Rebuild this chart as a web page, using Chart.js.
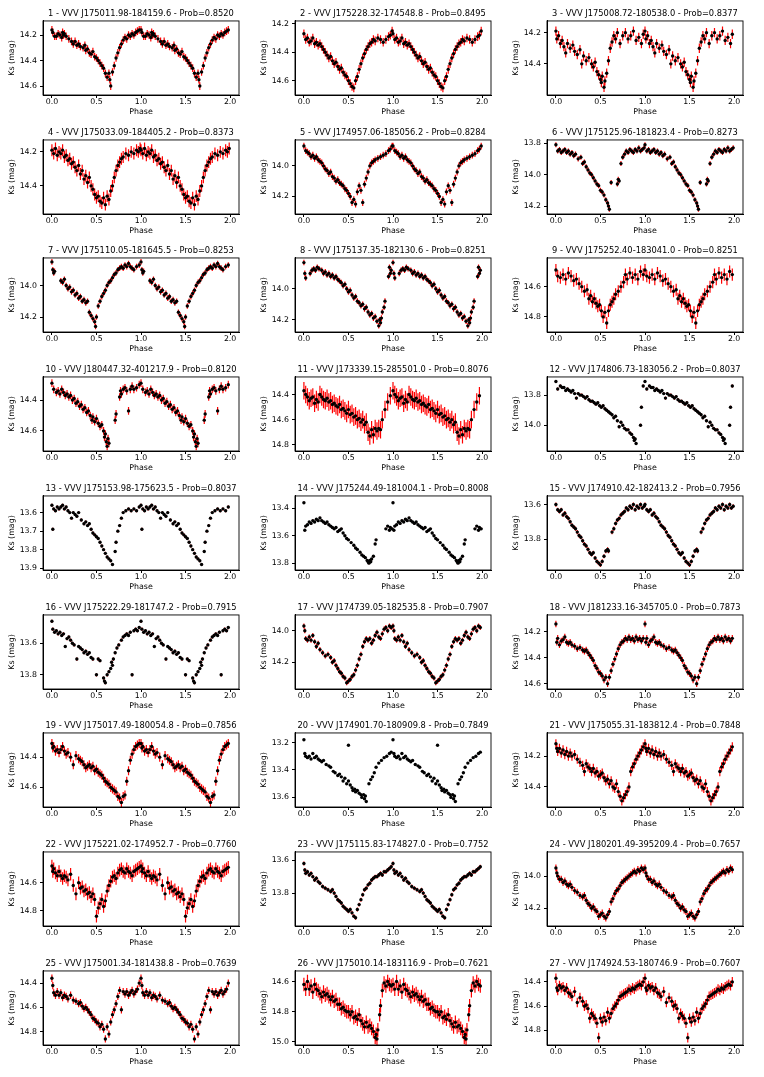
<!DOCTYPE html>
<html>
<head>
<meta charset="utf-8">
<script src="https://cdn.jsdelivr.net/npm/chart.js@4.4.0/dist/chart.umd.min.js"></script>
<style>
  html, body { margin: 0; padding: 0; background: #fff; }
  #fig { position: relative; width: 764px; height: 1077px; background: #fff; }
  #fig canvas { position: absolute; }
</style>
</head>
<body>
<div id="fig"></div>
<script>
// star ids and classifier probabilities, in panel order
const stars = [
  "J175011.98-184159.6", "J175228.32-174548.8", "J175008.72-180538.0",
  "J175033.09-184405.2", "J174957.06-185056.2", "J175125.96-181823.4",
  "J175110.05-181645.5", "J175137.35-182130.6", "J175252.40-183041.0",
  "J180447.32-401217.9", "J173339.15-285501.0", "J174806.73-183056.2",
  "J175153.98-175623.5", "J175244.49-181004.1", "J174910.42-182413.2",
  "J175222.29-181747.2", "J174739.05-182535.8", "J181233.16-345705.0",
  "J175017.49-180054.8", "J174901.70-180909.8", "J175055.31-183812.4",
  "J175221.02-174952.7", "J175115.83-174827.0", "J180201.49-395209.4",
  "J175001.34-181438.8", "J175010.14-183116.9", "J174924.53-180746.9"
];
const probs = ["0.8520","0.8495","0.8377","0.8373","0.8284","0.8273","0.8253","0.8251","0.8251",
  "0.8120","0.8076","0.8037","0.8037","0.8008","0.7956","0.7915","0.7907","0.7873",
  "0.7856","0.7849","0.7848","0.7760","0.7752","0.7657","0.7639","0.7621","0.7607"];

const xTicks = [0.0, 0.5, 1.0, 1.5, 2.0];
const yTicks = [
  [14.2,14.4,14.6],[14.2,14.4,14.6],[14.2,14.4],
  [14.2,14.4],[14.0,14.2],[13.8,14.0,14.2],
  [14.0,14.2],[14.0,14.2],[14.6,14.8],
  [14.4,14.6],[14.4,14.6,14.8],[13.8,14.0],
  [13.6,13.7,13.8,13.9],[13.4,13.6,13.8],[13.6,13.8],
  [13.6,13.8],[14.0,14.2],[14.2,14.4,14.6],
  [14.4,14.6],[13.2,13.4,13.6],[14.2,14.4],
  [14.6,14.8],[13.6,13.8],[14.0,14.2],
  [14.4,14.6,14.8],[14.6,14.8,15.0],[14.4,14.6,14.8]
];
const yMin = [14.09,14.18,14.125,14.13,13.83,13.78,13.825,13.80,14.41,14.25,14.26,13.68,13.51,13.31,13.55,13.42,13.90,14.07,14.24,13.13,14.05,14.38,13.55,13.85,14.30,14.53,14.31];
const yMax = [14.67,14.70,14.60,14.565,14.315,14.25,14.295,14.28,14.90,14.73,14.85,14.17,13.91,13.85,13.98,13.89,14.37,14.64,14.73,13.67,14.53,14.91,14.00,14.31,14.91,15.02,14.92];
// typical photometric error of each light curve (mag)
const errs = [0.03,0.03,0.03,0.035,0.022,0.016,0.018,0.018,0.04,0.025,0.07,0.01,0.008,0.008,0.012,0.01,0.016,0.025,0.03,0.005,0.03,0.045,0.012,0.022,0.03,0.045,0.04];

// phases (0..1); several stars share the same sampling
const phaseStd = [0.00,0.01,0.02,0.04,0.06,0.08,0.10,0.12,0.14,0.16,0.18,0.21,0.24,0.27,0.30,0.32,0.34,0.36,0.38,0.40,0.42,0.44,0.46,0.48,0.50,0.52,0.54,0.56,0.58,0.60,0.62,0.64,0.66,0.68,0.70,0.72,0.74,0.76,0.78,0.80,0.82,0.84,0.86,0.88,0.90,0.92,0.94,0.96,0.98];
const phaseEven = [0.00,0.02,0.04,0.06,0.08,0.10,0.12,0.14,0.16,0.18,0.20,0.22,0.24,0.26,0.28,0.30,0.32,0.34,0.36,0.38,0.40,0.42,0.44,0.46,0.48,0.50,0.52,0.54,0.56,0.58,0.60,0.62,0.64,0.66,0.68,0.70,0.72,0.74,0.76,0.78,0.80,0.83,0.86,0.89,0.92,0.95,0.97,0.99];

const phase = [
  [0.00,0.01,0.03,0.05,0.07,0.09,0.11,0.12,0.13,0.14,0.16,0.19,0.22,0.24,0.26,0.28,0.30,0.32,0.35,0.37,0.38,0.40,0.42,0.44,0.46,0.48,0.50,0.52,0.54,0.56,0.58,0.60,0.62,0.64,0.65,0.66,0.68,0.70,0.72,0.74,0.76,0.78,0.80,0.82,0.84,0.86,0.88,0.90,0.92,0.94,0.96,0.98],
  phaseEven,
  [0.00,0.01,0.03,0.05,0.07,0.09,0.11,0.13,0.16,0.19,0.21,0.24,0.27,0.29,0.31,0.34,0.37,0.40,0.42,0.44,0.46,0.48,0.50,0.51,0.52,0.54,0.55,0.57,0.59,0.61,0.63,0.65,0.67,0.69,0.72,0.75,0.78,0.81,0.84,0.87,0.90,0.93,0.96,0.98],
  phaseEven,
  phaseEven,
  [0.00,0.02,0.04,0.06,0.08,0.10,0.12,0.14,0.16,0.18,0.20,0.22,0.25,0.28,0.30,0.32,0.34,0.36,0.38,0.40,0.42,0.44,0.46,0.48,0.50,0.52,0.54,0.56,0.58,0.59,0.60,0.62,0.69,0.70,0.71,0.73,0.75,0.77,0.79,0.81,0.83,0.85,0.87,0.89,0.91,0.93,0.95,0.97,0.99],
  [0.00,0.01,0.02,0.03,0.10,0.12,0.14,0.16,0.18,0.20,0.22,0.24,0.26,0.28,0.30,0.32,0.34,0.36,0.38,0.40,0.42,0.44,0.46,0.48,0.49,0.50,0.52,0.54,0.56,0.58,0.60,0.62,0.64,0.66,0.68,0.70,0.72,0.74,0.76,0.78,0.80,0.82,0.84,0.86,0.88,0.90,0.92,0.95,0.98],
  [0.00,0.01,0.02,0.07,0.09,0.11,0.13,0.15,0.17,0.20,0.22,0.24,0.26,0.28,0.30,0.32,0.34,0.36,0.38,0.40,0.42,0.44,0.46,0.48,0.50,0.52,0.54,0.56,0.58,0.60,0.62,0.64,0.66,0.68,0.70,0.72,0.74,0.76,0.78,0.80,0.82,0.84,0.85,0.86,0.87,0.88,0.90,0.91,0.95,0.96,0.97,0.98],
  [0.00,0.02,0.05,0.08,0.11,0.14,0.17,0.20,0.23,0.26,0.29,0.32,0.35,0.37,0.39,0.41,0.43,0.45,0.47,0.49,0.51,0.53,0.55,0.57,0.59,0.61,0.63,0.65,0.67,0.70,0.73,0.76,0.78,0.80,0.83,0.86,0.89,0.92,0.95,0.98],
  [0.00,0.02,0.05,0.07,0.09,0.11,0.13,0.15,0.17,0.19,0.21,0.23,0.25,0.27,0.29,0.31,0.33,0.35,0.37,0.39,0.41,0.43,0.45,0.46,0.48,0.50,0.52,0.54,0.56,0.58,0.59,0.60,0.61,0.62,0.63,0.64,0.71,0.72,0.76,0.77,0.78,0.80,0.82,0.84,0.86,0.88,0.90,0.92,0.95,0.98],
  [0.00,0.02,0.04,0.06,0.08,0.10,0.12,0.14,0.16,0.18,0.20,0.22,0.24,0.26,0.28,0.30,0.32,0.34,0.36,0.38,0.40,0.42,0.44,0.46,0.48,0.50,0.52,0.54,0.56,0.58,0.60,0.62,0.64,0.66,0.68,0.70,0.72,0.74,0.76,0.78,0.80,0.82,0.84,0.86,0.88,0.91,0.94,0.97],
  [0.00,0.02,0.05,0.07,0.09,0.11,0.13,0.15,0.17,0.19,0.21,0.23,0.25,0.27,0.29,0.31,0.33,0.35,0.37,0.39,0.41,0.43,0.45,0.47,0.49,0.51,0.53,0.55,0.57,0.59,0.61,0.63,0.65,0.67,0.69,0.71,0.73,0.75,0.77,0.79,0.81,0.83,0.85,0.87,0.88,0.89,0.90,0.95,0.96,0.98],
  [0.00,0.01,0.02,0.04,0.06,0.08,0.10,0.12,0.14,0.16,0.18,0.20,0.22,0.24,0.26,0.28,0.30,0.33,0.36,0.38,0.40,0.42,0.44,0.46,0.48,0.50,0.52,0.54,0.56,0.58,0.60,0.62,0.64,0.66,0.68,0.71,0.72,0.74,0.76,0.78,0.80,0.83,0.86,0.89,0.92,0.95,0.98],
  [0.00,0.01,0.02,0.04,0.06,0.08,0.10,0.12,0.14,0.16,0.18,0.20,0.22,0.24,0.26,0.28,0.30,0.32,0.34,0.36,0.38,0.40,0.42,0.44,0.46,0.48,0.50,0.53,0.56,0.58,0.60,0.63,0.65,0.67,0.69,0.71,0.72,0.73,0.74,0.75,0.76,0.78,0.80,0.81,0.92,0.94,0.96,0.97,0.99],
  [0.00,0.02,0.04,0.06,0.08,0.10,0.12,0.14,0.16,0.18,0.20,0.22,0.24,0.26,0.28,0.30,0.32,0.34,0.36,0.38,0.40,0.42,0.44,0.46,0.48,0.50,0.52,0.54,0.56,0.58,0.59,0.63,0.65,0.67,0.69,0.71,0.73,0.75,0.77,0.79,0.81,0.83,0.85,0.87,0.89,0.91,0.93,0.95,0.97,0.99],
  [0.00,0.01,0.03,0.05,0.07,0.09,0.11,0.13,0.15,0.17,0.19,0.21,0.23,0.25,0.28,0.30,0.32,0.34,0.36,0.38,0.40,0.42,0.44,0.46,0.50,0.52,0.54,0.58,0.59,0.60,0.62,0.64,0.66,0.67,0.68,0.69,0.71,0.73,0.75,0.78,0.80,0.82,0.84,0.86,0.88,0.90,0.92,0.94,0.96,0.98],
  phaseStd,
  phaseStd,
  phaseStd,
  [0.00,0.01,0.02,0.04,0.06,0.08,0.10,0.12,0.14,0.16,0.18,0.20,0.22,0.25,0.28,0.30,0.33,0.35,0.38,0.40,0.42,0.44,0.46,0.48,0.50,0.50,0.52,0.54,0.55,0.57,0.58,0.60,0.62,0.64,0.65,0.67,0.68,0.69,0.70,0.73,0.75,0.77,0.79,0.81,0.84,0.87,0.90,0.93,0.96,0.98],
  phaseStd,
  phaseStd,
  phaseStd,
  phaseStd,
  phaseStd,
  [0.00,0.02,0.04,0.06,0.08,0.10,0.12,0.14,0.16,0.18,0.20,0.22,0.24,0.26,0.28,0.30,0.32,0.34,0.36,0.38,0.40,0.42,0.44,0.46,0.48,0.50,0.52,0.54,0.56,0.58,0.60,0.62,0.64,0.66,0.68,0.70,0.72,0.74,0.76,0.78,0.80,0.81,0.82,0.83,0.85,0.86,0.88,0.90,0.92,0.94,0.96,0.98],
  phaseStd
];

// Ks magnitudes
const mag = [
  [14.16,14.18,14.21,14.21,14.19,14.20,14.22,14.18,14.20,14.19,14.21,14.23,14.25,14.27,14.25,14.28,14.27,14.29,14.30,14.28,14.32,14.31,14.34,14.35,14.33,14.37,14.38,14.40,14.42,14.44,14.46,14.50,14.53,14.50,14.55,14.60,14.49,14.44,14.38,14.34,14.30,14.27,14.24,14.22,14.23,14.20,14.21,14.19,14.20,14.18,14.17,14.16],
  [14.27,14.31,14.30,14.33,14.32,14.30,14.34,14.33,14.35,14.34,14.36,14.38,14.40,14.42,14.44,14.43,14.46,14.48,14.47,14.50,14.52,14.51,14.54,14.56,14.57,14.60,14.62,14.64,14.65,14.60,14.57,14.52,14.48,14.44,14.41,14.38,14.36,14.34,14.33,14.31,14.32,14.30,14.31,14.33,14.31,14.29,14.28,14.25],
  [14.19,14.24,14.22,14.27,14.25,14.29,14.33,14.27,14.30,14.28,14.32,14.34,14.31,14.40,14.35,14.38,14.36,14.40,14.42,14.39,14.45,14.47,14.50,14.52,14.48,14.55,14.51,14.46,14.38,14.30,14.26,14.22,14.24,14.20,14.27,14.22,14.20,14.24,14.22,14.19,14.25,14.23,14.27,14.21],
  [14.19,14.21,14.18,14.22,14.20,14.21,14.19,14.23,14.22,14.25,14.24,14.27,14.26,14.29,14.31,14.28,14.33,14.31,14.36,14.34,14.38,14.35,14.40,14.42,14.45,14.47,14.46,14.49,14.50,14.47,14.51,14.46,14.48,14.43,14.40,14.35,14.31,14.28,14.26,14.24,14.23,14.21,14.22,14.20,14.21,14.19,14.20,14.18],
  [13.87,13.90,13.91,13.92,13.94,13.93,13.95,13.94,13.96,13.97,13.98,14.00,14.02,14.03,14.05,14.04,14.07,14.08,14.10,14.09,14.11,14.12,14.13,14.15,14.16,14.18,14.20,14.24,14.22,14.25,14.17,14.13,14.16,14.24,14.12,14.08,14.04,14.00,13.98,13.97,13.96,13.95,13.94,13.93,13.92,13.90,13.89,13.87],
  [13.81,13.85,13.84,13.86,13.85,13.84,13.86,13.85,13.87,13.86,13.88,13.87,13.90,13.89,13.93,13.92,13.95,13.97,13.99,14.00,14.02,14.04,14.06,14.07,14.10,14.11,14.13,14.16,14.18,14.20,14.22,14.05,14.06,14.03,14.04,13.93,13.89,13.87,13.85,13.86,13.84,13.85,13.86,13.84,13.85,13.83,13.85,13.84,13.83],
  [13.85,13.90,13.92,13.91,13.97,13.98,13.96,14.00,14.02,14.01,14.04,14.03,14.06,14.05,14.08,14.07,14.10,14.09,14.11,14.10,14.17,14.19,14.21,14.23,14.26,14.20,14.13,14.10,14.07,14.05,14.03,14.00,13.98,13.97,13.95,13.93,13.92,13.90,13.89,13.88,13.89,13.87,13.88,13.86,13.88,13.89,13.90,13.88,13.87],
  [13.83,13.90,13.93,13.90,13.88,13.87,13.88,13.86,13.87,13.88,13.90,13.89,13.91,13.90,13.92,13.91,13.93,13.92,13.94,13.95,13.96,13.98,13.97,14.00,14.02,14.01,14.04,14.06,14.05,14.08,14.09,14.11,14.10,14.13,14.12,14.15,14.17,14.16,14.19,14.18,14.21,14.24,14.20,14.22,14.19,14.15,14.12,14.08,13.92,13.86,13.90,13.88],
  [14.49,14.53,14.54,14.52,14.55,14.51,14.53,14.56,14.55,14.58,14.60,14.63,14.62,14.68,14.66,14.70,14.68,14.71,14.73,14.72,14.76,14.80,14.77,14.84,14.76,14.72,14.70,14.68,14.65,14.63,14.60,14.57,14.52,14.55,14.51,14.54,14.52,14.55,14.50,14.52],
  [14.29,14.33,14.35,14.34,14.36,14.33,14.35,14.37,14.36,14.38,14.37,14.40,14.39,14.42,14.41,14.44,14.43,14.46,14.45,14.48,14.47,14.50,14.53,14.51,14.54,14.52,14.55,14.57,14.56,14.60,14.64,14.62,14.67,14.70,14.65,14.68,14.53,14.49,14.38,14.34,14.36,14.33,14.32,14.34,14.47,14.33,14.31,14.33,14.32,14.30],
  [14.37,14.40,14.42,14.45,14.43,14.42,14.47,14.44,14.46,14.40,14.42,14.44,14.45,14.43,14.46,14.45,14.48,14.47,14.49,14.50,14.48,14.52,14.51,14.53,14.55,14.52,14.56,14.55,14.58,14.57,14.60,14.59,14.62,14.60,14.64,14.62,14.70,14.73,14.68,14.72,14.67,14.69,14.67,14.68,14.60,14.52,14.46,14.41],
  [13.71,13.76,13.74,13.75,13.75,13.77,13.76,13.77,13.78,13.77,13.79,13.82,13.79,13.80,13.80,13.81,13.82,13.81,13.83,13.84,13.84,13.85,13.86,13.85,13.87,13.88,13.87,13.89,13.90,13.91,13.92,13.93,13.95,13.94,13.97,14.01,13.98,14.00,14.02,14.03,14.03,14.05,14.06,14.08,14.10,14.09,14.12,14.00,13.88,13.74],
  [13.56,13.69,13.58,13.59,13.57,13.58,13.57,13.56,13.58,13.57,13.59,13.60,13.63,13.60,13.61,13.62,13.60,13.64,13.66,13.65,13.67,13.66,13.69,13.71,13.72,13.73,13.74,13.76,13.78,13.80,13.82,13.84,13.85,13.86,13.88,13.81,13.76,13.70,13.67,13.63,13.60,13.59,13.58,13.59,13.58,13.59,13.57],
  [13.36,13.56,13.53,13.52,13.50,13.51,13.49,13.50,13.48,13.49,13.47,13.49,13.50,13.51,13.50,13.52,13.53,13.54,13.55,13.54,13.57,13.56,13.55,13.58,13.60,13.62,13.63,13.65,13.67,13.69,13.70,13.72,13.74,13.75,13.76,13.78,13.79,13.80,13.78,13.79,13.77,13.75,13.66,13.63,13.55,13.53,13.56,13.54,13.55],
  [13.60,13.63,13.64,13.63,13.66,13.65,13.67,13.68,13.70,13.72,13.73,13.74,13.76,13.78,13.79,13.81,13.83,13.84,13.86,13.88,13.89,13.88,13.91,13.93,13.94,13.95,13.93,13.90,13.87,13.86,13.87,13.76,13.74,13.71,13.69,13.68,13.66,13.65,13.64,13.62,13.63,13.61,13.62,13.60,13.63,13.61,13.62,13.60,13.62,13.61],
  [13.46,13.51,13.53,13.52,13.54,13.53,13.55,13.54,13.62,13.57,13.56,13.58,13.60,13.61,13.70,13.62,13.63,13.64,13.66,13.65,13.67,13.66,13.69,13.70,13.80,13.70,13.71,13.82,13.84,13.85,13.80,13.78,13.76,13.72,13.74,13.70,13.66,13.63,13.61,13.58,13.56,13.55,13.54,13.55,13.53,13.80,13.52,13.51,13.52,13.50],
  [13.97,14.00,14.05,14.06,14.04,14.06,14.03,14.07,14.10,14.08,14.12,14.14,14.16,14.15,14.17,14.20,14.19,14.22,14.24,14.26,14.27,14.29,14.30,14.33,14.32,14.31,14.29,14.28,14.25,14.22,14.18,14.15,14.10,14.07,14.05,14.06,14.05,14.08,14.06,14.03,14.01,14.04,14.05,14.02,13.99,13.98,14.00,13.97,13.98],
  [14.14,14.28,14.25,14.30,14.27,14.26,14.24,14.28,14.29,14.28,14.30,14.31,14.33,14.32,14.34,14.35,14.34,14.36,14.38,14.40,14.42,14.46,14.48,14.51,14.52,14.54,14.57,14.55,14.60,14.55,14.50,14.45,14.41,14.37,14.33,14.30,14.28,14.27,14.25,14.26,14.24,14.26,14.25,14.27,14.24,14.26,14.25,14.27,14.25],
  [14.31,14.34,14.33,14.36,14.35,14.37,14.35,14.33,14.36,14.38,14.37,14.40,14.45,14.39,14.41,14.42,14.43,14.45,14.47,14.46,14.45,14.47,14.46,14.49,14.48,14.50,14.51,14.52,14.54,14.56,14.57,14.58,14.60,14.61,14.62,14.63,14.66,14.67,14.70,14.66,14.65,14.56,14.49,14.42,14.38,14.35,14.33,14.32,14.31],
  [13.18,13.28,13.30,13.31,13.30,13.32,13.28,13.31,13.30,13.32,13.33,13.34,13.33,13.36,13.37,13.38,13.41,13.42,13.44,13.43,13.45,13.48,13.46,13.50,13.22,13.48,13.51,13.53,13.55,13.54,13.56,13.55,13.57,13.58,13.60,13.58,13.61,13.59,13.63,13.50,13.47,13.45,13.42,13.38,13.35,13.33,13.31,13.30,13.28,13.27],
  [14.12,14.15,14.17,14.15,14.18,14.16,14.19,14.17,14.20,14.18,14.20,14.19,14.22,14.24,14.26,14.30,14.25,14.27,14.28,14.30,14.28,14.31,14.30,14.33,14.32,14.31,14.34,14.36,14.35,14.38,14.36,14.40,14.41,14.38,14.43,14.46,14.49,14.47,14.45,14.43,14.40,14.30,14.27,14.25,14.22,14.20,14.18,14.16,14.14],
  [14.48,14.52,14.50,14.53,14.55,14.52,14.55,14.57,14.55,14.56,14.58,14.54,14.62,14.68,14.60,14.64,14.63,14.66,14.65,14.68,14.67,14.70,14.68,14.72,14.84,14.78,14.75,14.72,14.77,14.73,14.66,14.62,14.59,14.56,14.55,14.57,14.53,14.51,14.50,14.52,14.53,14.50,14.52,14.53,14.55,14.52,14.51,14.50,14.49],
  [13.62,13.66,13.68,13.67,13.69,13.68,13.70,13.72,13.71,13.73,13.74,13.76,13.77,13.78,13.79,13.78,13.80,13.82,13.84,13.85,13.86,13.88,13.89,13.90,13.91,13.90,13.92,13.94,13.95,13.90,13.87,13.84,13.81,13.78,13.77,13.75,13.74,13.72,13.71,13.70,13.70,13.69,13.68,13.69,13.67,13.67,13.66,13.65,13.64],
  [13.95,13.98,14.00,14.02,14.02,14.04,14.03,14.05,14.06,14.05,14.07,14.09,14.10,14.12,14.13,14.12,14.15,14.17,14.18,14.20,14.19,14.21,14.22,14.25,14.24,14.23,14.25,14.26,14.24,14.22,14.16,14.14,14.11,14.09,14.08,14.06,14.04,14.03,14.02,14.01,14.00,13.99,13.98,13.97,13.98,13.96,13.97,13.95,13.96],
  [14.36,14.42,14.48,14.50,14.47,14.50,14.48,14.52,14.50,14.51,14.53,14.50,14.54,14.55,14.57,14.56,14.59,14.61,14.60,14.62,14.64,14.66,14.69,14.70,14.72,14.73,14.76,14.74,14.78,14.86,14.76,14.82,14.72,14.66,14.62,14.57,14.51,14.46,14.62,14.47,14.49,14.47,14.50,14.48,14.46,14.49,14.47,14.45,14.40],
  [14.62,14.65,14.60,14.65,14.63,14.67,14.62,14.65,14.66,14.68,14.70,14.67,14.69,14.68,14.70,14.72,14.70,14.73,14.72,14.75,14.75,14.78,14.77,14.79,14.80,14.80,14.82,14.80,14.84,14.83,14.85,14.82,14.86,14.88,14.90,14.87,14.90,14.89,14.91,14.93,14.97,14.95,14.98,14.92,14.82,14.76,14.66,14.61,14.63,14.60,14.62,14.63],
  [14.37,14.45,14.47,14.43,14.45,14.44,14.47,14.45,14.49,14.50,14.52,14.48,14.57,14.53,14.56,14.60,14.59,14.62,14.70,14.66,14.68,14.70,14.74,14.86,14.70,14.73,14.69,14.72,14.65,14.70,14.66,14.62,14.60,14.58,14.55,14.52,14.51,14.50,14.49,14.48,14.46,14.47,14.45,14.46,14.44,14.43,14.42,14.43,14.40]
];

const FONT = 'DejaVu Sans';
const tickFont = { family: FONT, size: 7.8 };
const labelFont = { family: FONT, size: 7.9, lineHeight: 1.2 };

// red error bars under the black points
const errorBars = {
  id: 'errorBars',
  beforeDatasetsDraw(chart) {
    const { ctx, chartArea: a, scales: { x, y } } = chart;
    ctx.save();
    ctx.beginPath();
    ctx.rect(a.left, a.top, a.right - a.left, a.bottom - a.top);
    ctx.clip();
    ctx.strokeStyle = '#ff0000';
    ctx.lineWidth = 1.2;
    ctx.beginPath();
    chart.data.datasets[0].data.forEach(p => {
      const px = x.getPixelForValue(p.x);
      ctx.moveTo(px, y.getPixelForValue(p.y - p.e));
      ctx.lineTo(px, y.getPixelForValue(p.y + p.e));
    });
    ctx.stroke();
    ctx.restore();
  }
};

// full frame around the axes
const frame = {
  id: 'frame',
  afterDraw(chart) {
    const { ctx, chartArea: a } = chart;
    ctx.save();
    ctx.strokeStyle = '#000';
    ctx.lineWidth = 0.9;
    ctx.strokeRect(a.left, a.top, a.right - a.left, a.bottom - a.top);
    ctx.restore();
  }
};

const fig = document.getElementById('fig');
for (let i = 0; i < 27; i++) {
  const r = Math.floor(i / 3), c = i % 3;
  const cv = document.createElement('canvas');
  cv.width = 252; cv.height = 118;
  cv.style.width = '252px'; cv.style.height = '118px';
  cv.style.left = (c * 252) + 'px';
  cv.style.top = Math.round(r * 118.7) + 'px';
  fig.appendChild(cv);

  const n = Math.min(phase[i].length, mag[i].length);
  const pts = [];
  // phase-folded curve is shown twice (phase and phase + 1)
  for (const cyc of [0, 1]) {
    for (let j = 0; j < n; j++) pts.push({ x: phase[i][j] + cyc, y: mag[i][j], e: errs[i] });
  }

  new Chart(cv, {
    type: 'scatter',
    data: { datasets: [{ data: pts, pointRadius: 1.7, pointHoverRadius: 1.7, pointBorderWidth: 0, backgroundColor: '#000' }] },
    options: {
      responsive: false,
      animation: false,
      events: [],
      layout: { padding: { left: 0, right: 13, top: 0, bottom: 0 }, autoPadding: false },
      plugins: {
        legend: { display: false },
        tooltip: { enabled: false },
        title: {
          display: true,
          fullSize: false,
          text: (i + 1) + ' - VVV ' + stars[i] + ' - Prob=' + probs[i],
          color: '#000',
          font: { family: FONT, size: 8.3, weight: 'normal', lineHeight: 1.2 },
          padding: { top: 8.5, bottom: 2.5 }
        }
      },
      scales: {
        x: {
          type: 'linear', min: -0.1, max: 2.1,
          afterBuildTicks: s => { s.ticks = xTicks.map(v => ({ value: v })); },
          afterFit: s => { s.height = 23; },
          ticks: { font: tickFont, color: '#000', padding: -1, maxRotation: 0, autoSkip: false, callback: v => Number(v).toFixed(1) },
          grid: { drawOnChartArea: false, drawTicks: true, tickLength: 3, color: '#000' },
          border: { display: true, color: '#000' },
          title: { display: true, text: 'Phase', color: '#000', font: labelFont, padding: { top: 0, bottom: 1 } }
        },
        y: {
          type: 'linear', reverse: true, min: yMin[i], max: yMax[i],
          afterBuildTicks: s => { s.ticks = yTicks[i].map(v => ({ value: v })); },
          afterFit: s => { s.width = 43; },
          ticks: { font: tickFont, color: '#000', padding: 3, autoSkip: false, callback: v => Number(v).toFixed(1) },
          grid: { drawOnChartArea: false, drawTicks: true, tickLength: 3, color: '#000' },
          border: { display: true, color: '#000' },
          title: { display: true, text: 'Ks (mag)', color: '#000', font: labelFont, padding: { top: 7.5, bottom: 0 } }
        }
      }
    },
    plugins: [errorBars, frame]
  });
}
</script>
</body>
</html>
